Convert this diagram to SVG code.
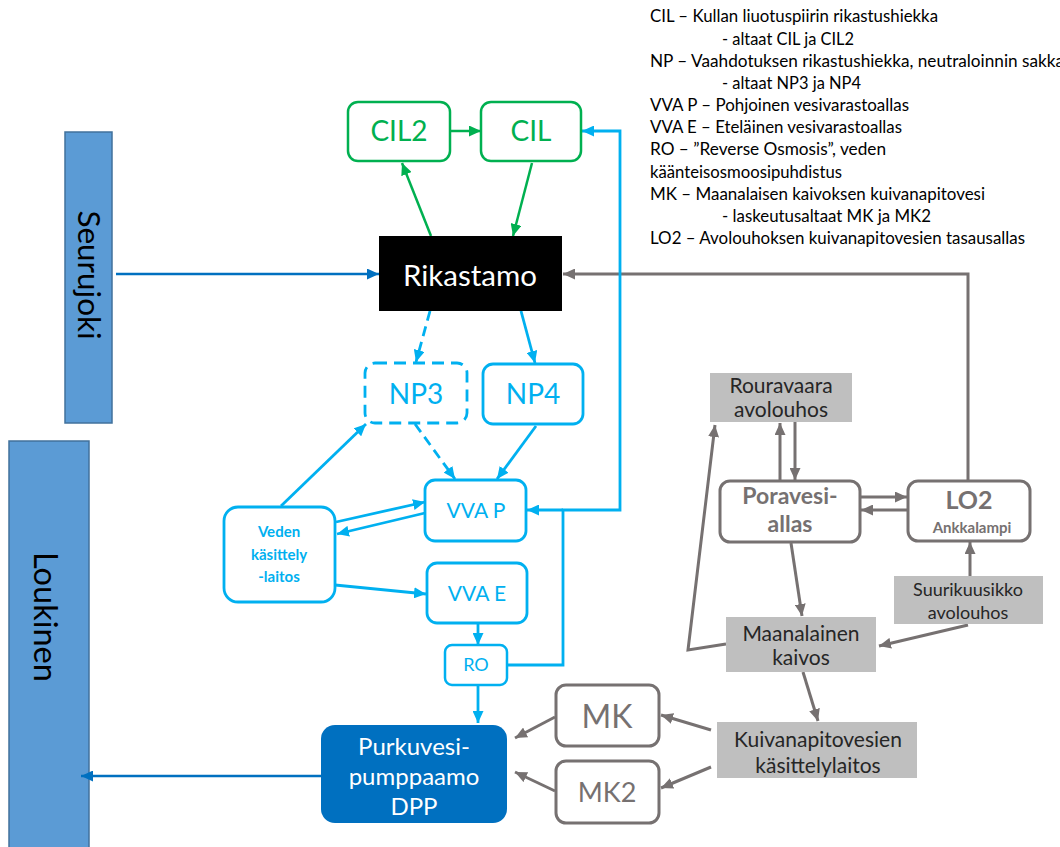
<svg xmlns="http://www.w3.org/2000/svg" width="1060" height="847" viewBox="0 0 1060 847">
<style>
text{font-family:Lato,"Liberation Sans",sans-serif;}
.leg{font-size:16.5px;fill:#000;}
.c{text-anchor:middle;}
.g{fill:none;stroke:#00B050;stroke-width:2.5;}
.cy{fill:none;stroke:#00B0F0;stroke-width:2.8;}
.gr{fill:none;stroke:#767171;stroke-width:3;}
.bl{fill:none;stroke:#0070C0;stroke-width:2.5;}
.gbox{fill:#BFBFBF;}
.gt{fill:#262626;font-size:21px;}
.dash{stroke-dasharray:10 6;}
</style>
<defs>
<marker id="ag" markerUnits="userSpaceOnUse" markerWidth="13" markerHeight="11" refX="12" refY="5.5" orient="auto"><path d="M0,0 L12,5.5 L0,11 z" fill="#00B050"/></marker>
<marker id="ac" markerUnits="userSpaceOnUse" markerWidth="13" markerHeight="11" refX="12" refY="5.5" orient="auto"><path d="M0,0 L12,5.5 L0,11 z" fill="#00B0F0"/></marker>
<marker id="agr" markerUnits="userSpaceOnUse" markerWidth="13" markerHeight="11" refX="12" refY="5.5" orient="auto"><path d="M0,0 L12,5.5 L0,11 z" fill="#767171"/></marker>
<marker id="ab" markerUnits="userSpaceOnUse" markerWidth="13" markerHeight="11" refX="12" refY="5.5" orient="auto"><path d="M0,0 L12,5.5 L0,11 z" fill="#0070C0"/></marker>
</defs>

<g id="legend" class="leg">
<text x="650" y="22" textLength="288" lengthAdjust="spacingAndGlyphs">CIL – Kullan liuotuspiirin rikastushiekka</text>
<text x="722" y="45" textLength="132" lengthAdjust="spacingAndGlyphs">- altaat CIL ja CIL2</text>
<text x="650" y="67" textLength="414" lengthAdjust="spacingAndGlyphs">NP – Vaahdotuksen rikastushiekka, neutraloinnin sakka</text>
<text x="722" y="89" textLength="139" lengthAdjust="spacingAndGlyphs">- altaat NP3 ja NP4</text>
<text x="650" y="111" textLength="259" lengthAdjust="spacingAndGlyphs">VVA P – Pohjoinen vesivarastoallas</text>
<text x="650" y="133" textLength="252" lengthAdjust="spacingAndGlyphs">VVA E – Eteläinen vesivarastoallas</text>
<text x="650" y="155" textLength="236" lengthAdjust="spacingAndGlyphs">RO – ”Reverse Osmosis”, veden</text>
<text x="650" y="178" textLength="192" lengthAdjust="spacingAndGlyphs">käänteisosmoosipuhdistus</text>
<text x="650" y="200" textLength="335" lengthAdjust="spacingAndGlyphs">MK – Maanalaisen kaivoksen kuivanapitovesi</text>
<text x="722" y="222" textLength="209" lengthAdjust="spacingAndGlyphs">- laskeutusaltaat MK ja MK2</text>
<text x="650" y="244" textLength="375" lengthAdjust="spacingAndGlyphs">LO2 – Avolouhoksen kuivanapitovesien tasausallas</text>
</g>

<g id="seurujoki">
<rect x="65" y="132" width="47" height="291" fill="#5B9BD5" stroke="#41719C" stroke-width="1.5"/>
<text class="c" transform="translate(88,275) rotate(90)" y="10" font-size="31.5" fill="#000">Seurujoki</text>
</g>
<g id="loukinen">
<rect x="9" y="441" width="80" height="420" fill="#5B9BD5" stroke="#41719C" stroke-width="1.5"/>
<text class="c" transform="translate(44,617) rotate(90)" y="10" font-size="32.5" fill="#000">Loukinen</text>
</g>

<g id="connectors">
<line class="g" x1="450" y1="131" x2="481" y2="131" marker-end="url(#ag)"/>
<line class="g" x1="431" y1="236" x2="402" y2="163" marker-end="url(#ag)"/>
<line class="g" x1="532" y1="163" x2="513" y2="236" marker-end="url(#ag)"/>
<line class="bl" x1="116" y1="274" x2="379" y2="274" marker-end="url(#ab)"/>
<line class="bl" x1="321" y1="776" x2="81" y2="776" marker-end="url(#ab)"/>
<path class="gr" d="M968,481 V274 H563" marker-end="url(#agr)"/>
<line class="cy dash" x1="430" y1="311" x2="416" y2="362" marker-end="url(#ac)"/>
<line class="cy" x1="521" y1="311" x2="535" y2="363" marker-end="url(#ac)"/>
<line class="cy dash" x1="415" y1="424" x2="455" y2="479" marker-end="url(#ac)"/>
<line class="cy" x1="536" y1="426" x2="497" y2="479" marker-end="url(#ac)"/>
<line class="cy" x1="281" y1="506" x2="366" y2="424" marker-end="url(#ac)"/>
<line class="cy" x1="336" y1="522" x2="425" y2="502" marker-end="url(#ac)"/>
<line class="cy" x1="425" y1="513" x2="337" y2="534" marker-end="url(#ac)"/>
<line class="cy" x1="335" y1="585" x2="426" y2="594" marker-end="url(#ac)"/>
<line class="cy" x1="478" y1="623" x2="478" y2="645" marker-end="url(#ac)"/>
<line class="cy" x1="478" y1="685" x2="478" y2="723" marker-end="url(#ac)"/>
<path class="cy" d="M507,665 H563 V510 H620 V131 H582" marker-end="url(#ac)"/>
<line class="cy" x1="563" y1="510" x2="527" y2="510" marker-end="url(#ac)"/>
<line class="gr" x1="780" y1="481" x2="780" y2="423" marker-end="url(#agr)"/>
<line class="gr" x1="795" y1="422" x2="795" y2="480" marker-end="url(#agr)"/>
<line class="gr" x1="860" y1="497" x2="907" y2="497" marker-end="url(#agr)"/>
<line class="gr" x1="908" y1="510" x2="861" y2="510" marker-end="url(#agr)"/>
<line class="gr" x1="791" y1="543" x2="802" y2="616" marker-end="url(#agr)"/>
<line class="gr" x1="970" y1="576" x2="970" y2="542" marker-end="url(#agr)"/>
<line class="gr" x1="968" y1="625" x2="879" y2="646" marker-end="url(#agr)"/>
<path class="gr" d="M726,644 L688,650 L715,425" marker-end="url(#agr)"/>
<line class="gr" x1="803" y1="672" x2="818" y2="721" marker-end="url(#agr)"/>
<line class="gr" x1="711" y1="730" x2="661" y2="715" marker-end="url(#agr)"/>
<line class="gr" x1="711" y1="767" x2="661" y2="788" marker-end="url(#agr)"/>
<line class="gr" x1="555" y1="717" x2="515" y2="738" marker-end="url(#agr)"/>
<line class="gr" x1="555" y1="791" x2="515" y2="772" marker-end="url(#agr)"/>
</g>

<g id="cil2">
<rect x="348" y="102" width="102" height="59" rx="10" fill="#fff" stroke="#00B050" stroke-width="2.5"/>
<text class="c" x="399" y="141" font-size="28" fill="#00B050">CIL2</text>
</g>
<g id="cil">
<rect x="481" y="102" width="100" height="59" rx="10" fill="#fff" stroke="#00B050" stroke-width="2.5"/>
<text class="c" x="531" y="141" font-size="28" fill="#00B050">CIL</text>
</g>
<g id="rikastamo">
<rect x="379" y="236" width="183" height="75" fill="#000"/>
<text class="c" x="470" y="286" font-size="29.5" fill="#fff">Rikastamo</text>
</g>
<g id="np3">
<rect x="365" y="363" width="102" height="60" rx="10" fill="#fff" stroke="#00B0F0" stroke-width="2.8" stroke-dasharray="12 7"/>
<text class="c" x="416" y="404" font-size="28" fill="#00B0F0">NP3</text>
</g>
<g id="np4">
<rect x="483" y="364" width="100" height="60" rx="10" fill="#fff" stroke="#00B0F0" stroke-width="2.8"/>
<text class="c" x="533" y="404" font-size="28" fill="#00B0F0">NP4</text>
</g>
<g id="vvap">
<rect x="425" y="480" width="101" height="61" rx="10" fill="#fff" stroke="#00B0F0" stroke-width="2.8"/>
<text class="c" x="476" y="518" font-size="21" fill="#00B0F0">VVA P</text>
</g>
<g id="vvae">
<rect x="427" y="563" width="100" height="60" rx="10" fill="#fff" stroke="#00B0F0" stroke-width="2.8"/>
<text class="c" x="477" y="601" font-size="21" fill="#00B0F0">VVA E</text>
</g>
<g id="ro">
<rect x="445" y="645" width="62" height="40" rx="7" fill="#fff" stroke="#00B0F0" stroke-width="2.5"/>
<text class="c" x="476" y="671" font-size="18" fill="#00B0F0">RO</text>
</g>
<g id="veden">
<rect x="224" y="507" width="111" height="95" rx="14" fill="#fff" stroke="#00B0F0" stroke-width="2.8"/>
<text class="c" x="279" y="537" font-size="15" font-weight="bold" fill="#00B0F0">Veden</text>
<text class="c" x="279" y="560" font-size="15" font-weight="bold" fill="#00B0F0">käsittely</text>
<text class="c" x="279" y="582" font-size="15" font-weight="bold" fill="#00B0F0">-laitos</text>
</g>
<g id="purkuvesi">
<rect x="321" y="725" width="186" height="98" rx="14" fill="#0070C0"/>
<text class="c" x="414" y="755" font-size="24" fill="#fff">Purkuvesi-</text>
<text class="c" x="414" y="785" font-size="24" fill="#fff">pumppaamo</text>
<text class="c" x="414" y="815" font-size="24" fill="#fff">DPP</text>
</g>
<g id="mk">
<rect x="556" y="685" width="103" height="61" rx="10" fill="#fff" stroke="#767171" stroke-width="3"/>
<text class="c" x="607" y="728" font-size="32" fill="#767171">MK</text>
</g>
<g id="mk2">
<rect x="556" y="761" width="103" height="62" rx="10" fill="#fff" stroke="#767171" stroke-width="3"/>
<text class="c" x="607" y="802" font-size="27" fill="#767171">MK2</text>
</g>
<g id="kuivanapito">
<rect class="gbox" x="717" y="722" width="200" height="56"/>
<text class="c gt" x="818" y="747">Kuivanapitovesien</text>
<text class="c gt" x="818" y="773">käsittelylaitos</text>
</g>
<g id="maanalainen">
<rect class="gbox" x="726" y="617" width="150" height="55"/>
<text class="c gt" x="801" y="641">Maanalainen</text>
<text class="c gt" x="801" y="665">kaivos</text>
</g>
<g id="rouravaara">
<rect class="gbox" x="710" y="373" width="142" height="49"/>
<text class="c gt" x="781" y="393">Rouravaara</text>
<text class="c gt" x="781" y="417">avolouhos</text>
</g>
<g id="poravesi">
<rect x="720" y="481" width="140" height="61" rx="10" fill="#fff" stroke="#767171" stroke-width="3"/>
<text class="c" x="790" y="504" font-size="23" font-weight="bold" fill="#767171">Poravesi-</text>
<text class="c" x="790" y="532" font-size="23" font-weight="bold" fill="#767171">allas</text>
</g>
<g id="lo2">
<rect x="908" y="481" width="122" height="60" rx="10" fill="#fff" stroke="#767171" stroke-width="3"/>
<text class="c" x="969" y="509" font-size="25" font-weight="bold" fill="#767171">LO2</text>
<text class="c" x="972" y="533" font-size="15" font-weight="bold" fill="#767171">Ankkalampi</text>
</g>
<g id="suurikuusikko">
<rect class="gbox" x="894" y="576" width="149" height="48"/>
<text class="c gt" x="968" y="596" style="font-size:18px">Suurikuusikko</text>
<text class="c gt" x="968" y="619" style="font-size:18px">avolouhos</text>
</g>
</svg>
